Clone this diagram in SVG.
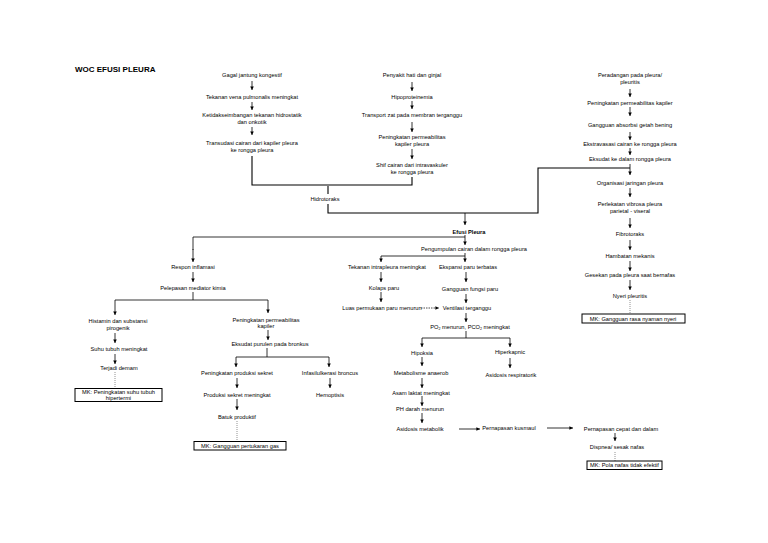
<svg xmlns="http://www.w3.org/2000/svg" width="768" height="543" viewBox="0 0 768 543">
<defs>
<marker id="ah" viewBox="0 0 6 6" refX="6" refY="3" markerWidth="3.6" markerHeight="3.6" markerUnits="userSpaceOnUse" orient="auto">
<path d="M0,0 L6,3 L0,6 z" fill="#000"/>
</marker>
<style>
text{font-family:"Liberation Sans",Arial,sans-serif;font-size:5.7px;fill:#000;text-anchor:middle}
.title{font-size:8px;font-weight:bold;text-anchor:start}
.b{font-weight:bold}
.a{stroke:#000;stroke-width:0.8;fill:none;marker-end:url(#ah)}
.l{stroke:#000;stroke-width:1.1;fill:none}
.d{stroke:#777;stroke-width:0.8;stroke-dasharray:1,1;fill:none}
.ds{stroke:#000;stroke-width:0.7;stroke-dasharray:1.5,1;fill:none;marker-end:url(#ah)}
.box{fill:#fff;stroke:#000;stroke-width:1}
</style>
</defs>
<rect width="768" height="543" fill="#fff"/>
<text class="title" x="75" y="72">WOC EFUSI PLEURA</text>

<g id="connectors">
<!-- column 1 -->
<path class="a" d="M252,81 V90"/>
<path class="a" d="M252,102 V110"/>
<path class="a" d="M252,127 V135"/>
<path class="l" d="M252,156 V185 H412 V177"/>
<!-- column 2 -->
<path class="a" d="M412,82 V91"/>
<path class="a" d="M412,101 V109"/>
<path class="a" d="M412,122 V132"/>
<path class="a" d="M412,149 V159"/>
<!-- hidrotoraks -->
<path class="l" d="M328,186 V194"/>
<path class="l" d="M328,204 V213 H538 V168 H630"/>
<!-- column 3 -->
<path class="a" d="M630,89 V97"/>
<path class="a" d="M630,107 V116"/>
<path class="a" d="M630,132 V140"/>
<path class="a" d="M630,148 V155"/>
<path class="a" d="M630,164 V175"/>
<path class="a" d="M630,188 V197"/>
<path class="a" d="M630,218 V228"/>
<path class="a" d="M630,240 V250"/>
<path class="a" d="M630,261 V271"/>
<path class="a" d="M630,280 V290"/>
<path class="d" d="M630,300 V314"/>
<!-- efusi -->
<path class="a" d="M465,213 V225"/>
<path class="a" d="M465,235 V245"/>
<path class="l" d="M465,237 H193 V250" style="stroke-width:0.8"/>
<path class="a" d="M193,249 V262"/>
<path class="a" d="M465,253 V262"/>
<path class="l" d="M465,256 H381" style="stroke-width:0.8"/>
<path class="a" d="M381,256 V262"/>
<path class="a" d="M381,272 V282"/>
<path class="a" d="M381,292 V302"/>
<path class="ds" d="M421,308 H439"/>
<path class="a" d="M466,272 V282"/>
<path class="a" d="M466,294 V303"/>
<path class="a" d="M466,313 V322"/>
<path class="l" d="M466,331 V338 M422,338 H510" style="stroke-width:0.8"/>
<path class="a" d="M422,338 V347"/>
<path class="a" d="M510,338 V347"/>
<path class="a" d="M422,357 V366"/>
<path class="a" d="M510,358 V368"/>
<path class="a" d="M422,378 V388"/>
<path class="a" d="M422,396 V406"/>
<path class="a" d="M422,413 V423"/>
<path class="a" d="M459,429 H480"/>
<path class="a" d="M547,428 H573"/>
<path class="a" d="M615,433 V441"/>
<path class="d" d="M615,452 V461"/>
<!-- left -->
<path class="a" d="M193,272 V282"/>
<path class="l" d="M193,292 V300 M115,300 H268" style="stroke-width:0.8"/>
<path class="a" d="M115,300 V315"/>
<path class="a" d="M268,300 V313"/>
<path class="a" d="M115,333 V343"/>
<path class="a" d="M115,354 V364"/>
<path class="d" d="M115,372 V389"/>
<path class="a" d="M268,330 V340"/>
<path class="l" d="M267,348 V357 M236,357 H329" style="stroke-width:0.8"/>
<path class="a" d="M236,357 V367"/>
<path class="a" d="M329,357 V367"/>
<path class="a" d="M237,378 V388"/>
<path class="a" d="M330,378 V388"/>
<path class="a" d="M237,399 V410"/>
<path class="d" d="M237,421 V441"/>
</g>

<g id="n-gagal"><text x="252" y="77">Gagal jantung kongestif</text></g>
<g id="n-tekanan-vena"><text x="252" y="99">Tekanan vena pulmonalis meningkat</text></g>
<g id="n-ketidak"><text x="252" y="117">Ketidakseimbangan tekanan hidrostatik</text><text x="252" y="124">dan onkotik</text></g>
<g id="n-transudasi"><text x="252" y="145">Transudasi cairan dari kapiler pleura</text><text x="252" y="152">ke rongga pleura</text></g>

<g id="n-penyakit"><text x="412" y="77">Penyakit hati dan ginjal</text></g>
<g id="n-hipoprotein"><text x="412" y="99">Hipoproteinemia</text></g>
<g id="n-transport"><text x="412" y="117">Transport zat pada membran terganggu</text></g>
<g id="n-perm2"><text x="412" y="139">Peningkatan permeabilitas</text><text x="412" y="146">kapiler pleura</text></g>
<g id="n-shif"><text x="412" y="167">Shif cairan dari intravaskuler</text><text x="412" y="174">ke rongga pleura</text></g>

<g id="n-hidrotoraks"><text x="325" y="201">Hidrotoraks</text></g>

<g id="n-peradangan"><text x="630" y="77">Peradangan pada pleura/</text><text x="630" y="84">pleuritis</text></g>
<g id="n-perm3"><text x="630" y="105">Peningkatan permeabilitas kapiler</text></g>
<g id="n-absorbsi"><text x="630" y="127">Gangguan absorbsi getah bening</text></g>
<g id="n-ekstrav"><text x="630" y="146">Ekstravasasi cairan ke rongga pleura</text></g>
<g id="n-eksudat"><text x="630" y="161">Eksudat ke dalam rongga pleura</text></g>
<g id="n-organisasi"><text x="630" y="185">Organisasi jaringan pleura</text></g>
<g id="n-perlekatan"><text x="630" y="206">Perlekatan vibrosa pleura</text><text x="630" y="213">parietal - viseral</text></g>
<g id="n-fibro"><text x="630" y="236">Fibrotoraks</text></g>
<g id="n-hambatan"><text x="630" y="258">Hambatan mekanis</text></g>
<g id="n-gesekan"><text x="630" y="277">Gesekan pada pleura saat bernafas</text></g>
<g id="n-nyeri"><text x="630" y="298">Nyeri pleuritis</text></g>
<g id="mk-nyeri"><rect class="box" x="582" y="314" width="103" height="9"/><text x="633" y="320.5">MK: Gangguan rasa nyaman nyeri</text></g>

<g id="n-efusi"><text class="b" x="469" y="233.5">Efusi Pleura</text></g>
<g id="n-pengumpulan"><text x="474" y="251">Pengumpulan cairan dalam rongga pleura</text></g>
<g id="n-tek-intra"><text x="387" y="269">Tekanan intrapleura meningkat</text></g>
<g id="n-ekspansi"><text x="468" y="269">Ekspansi paru terbatas</text></g>
<g id="n-kolaps"><text x="384" y="290">Kolaps paru</text></g>
<g id="n-luas"><text x="382" y="310">Luas permukaan paru menurun</text></g>
<g id="n-gangfungsi"><text x="470" y="291">Gangguan fungsi paru</text></g>
<g id="n-ventilasi"><text x="467" y="310">Ventilasi terganggu</text></g>
<g id="n-po2"><text x="470" y="329">PO<tspan font-size="3.6" dy="1.2">2</tspan><tspan dy="-1.2"> menurun, PCO</tspan><tspan font-size="3.6" dy="1.2">2</tspan><tspan dy="-1.2"> meningkat</tspan></text></g>
<g id="n-hipoksia"><text x="422" y="355">Hipoksia</text></g>
<g id="n-hiperkapnic"><text x="510" y="354">Hiperkapnic</text></g>
<g id="n-metabolisme"><text x="421" y="375">Metabolisme anaerob</text></g>
<g id="n-asidosis-resp"><text x="511" y="377">Asidosis respiratorik</text></g>
<g id="n-asam"><text x="421" y="395">Asam laktat meningkat</text></g>
<g id="n-ph"><text x="420" y="411">PH darah menurun</text></g>
<g id="n-asidosis-met"><text x="420" y="431">Asidosis metabolik</text></g>
<g id="n-kusmaul"><text x="509" y="430">Pernapasan kusmaul</text></g>
<g id="n-cepat"><text x="621" y="431">Pernapasan cepat dan dalam</text></g>
<g id="n-dispnea"><text x="617" y="449">Dispnea/ sesak nafas</text></g>
<g id="mk-pola"><rect class="box" x="587" y="461" width="75" height="8.5"/><text x="624.5" y="467.2">MK: Pola nafas tidak efektif</text></g>

<g id="n-respon"><text x="193" y="269">Respon inflamasi</text></g>
<g id="n-pelepasan"><text x="193" y="290">Pelepasan mediator kimia</text></g>
<g id="n-histamin"><text x="118" y="323">Histamin dan substansi</text><text x="118" y="330">pirogenik</text></g>
<g id="n-suhu"><text x="119" y="351">Suhu tubuh meningkat</text></g>
<g id="n-demam"><text x="119" y="370">Terjadi demam</text></g>
<g id="mk-hipertermi"><rect class="box" x="75" y="388.5" width="87" height="13"/><text x="118.5" y="394">MK: Peningkatan suhu tubuh</text><text x="118.5" y="399.5">hipertermi</text></g>
<g id="n-perm-left"><text x="266" y="322">Peningkatan permeabilitas</text><text x="266" y="328">kapiler</text></g>
<g id="n-purulen"><text x="270" y="346">Eksudat purulen pada bronkus</text></g>
<g id="n-produksi"><text x="237" y="375">Peningkatan produksi sekret</text></g>
<g id="n-infasi"><text x="330" y="375">Infasilulkerasi broncus</text></g>
<g id="n-sekret"><text x="237" y="397">Produksi sekret meningkat</text></g>
<g id="n-hemoptisis"><text x="330" y="397">Hemoptisis</text></g>
<g id="n-batuk"><text x="237" y="419">Batuk produktif</text></g>
<g id="mk-gas"><rect class="box" x="194" y="441.5" width="92" height="8.5"/><text x="240" y="447.7">MK: Gangguan pertukaran gas</text></g>
</svg>
